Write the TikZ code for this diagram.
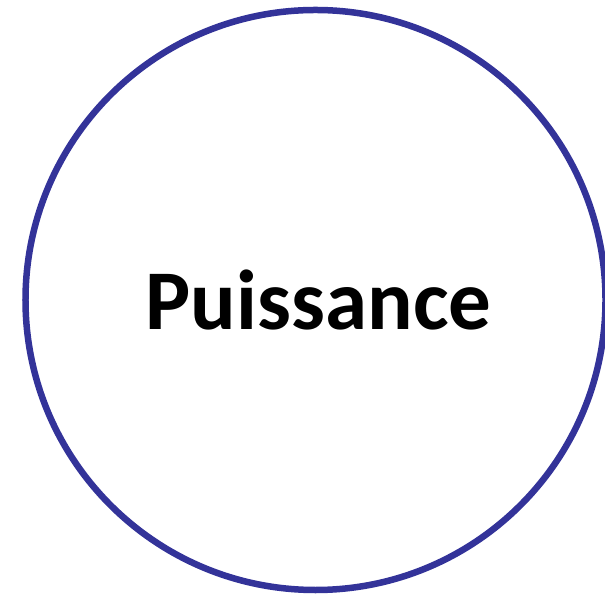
\documentclass[tikz,border=0pt]{standalone}
\usepackage{fontspec}
\setmainfont{Carlito}
\definecolor{ringblue}{RGB}{51,51,153}
\begin{document}
\begin{tikzpicture}[x=1bp,y=1bp,
  ring/.style={draw=ringblue,line width=6.5bp},
  label/.style={font=\fontsize{85bp}{100bp}\selectfont\bfseries,text=black,inner sep=0pt}]
\useasboundingbox (0,0) rectangle (605,595);
\node[ring,circle,minimum size=580bp,inner sep=0pt] (c) at (315.5,295) {};
\node[label,anchor=base] (t) at (318.5,265) {Puissance};
\end{tikzpicture}
\end{document}
